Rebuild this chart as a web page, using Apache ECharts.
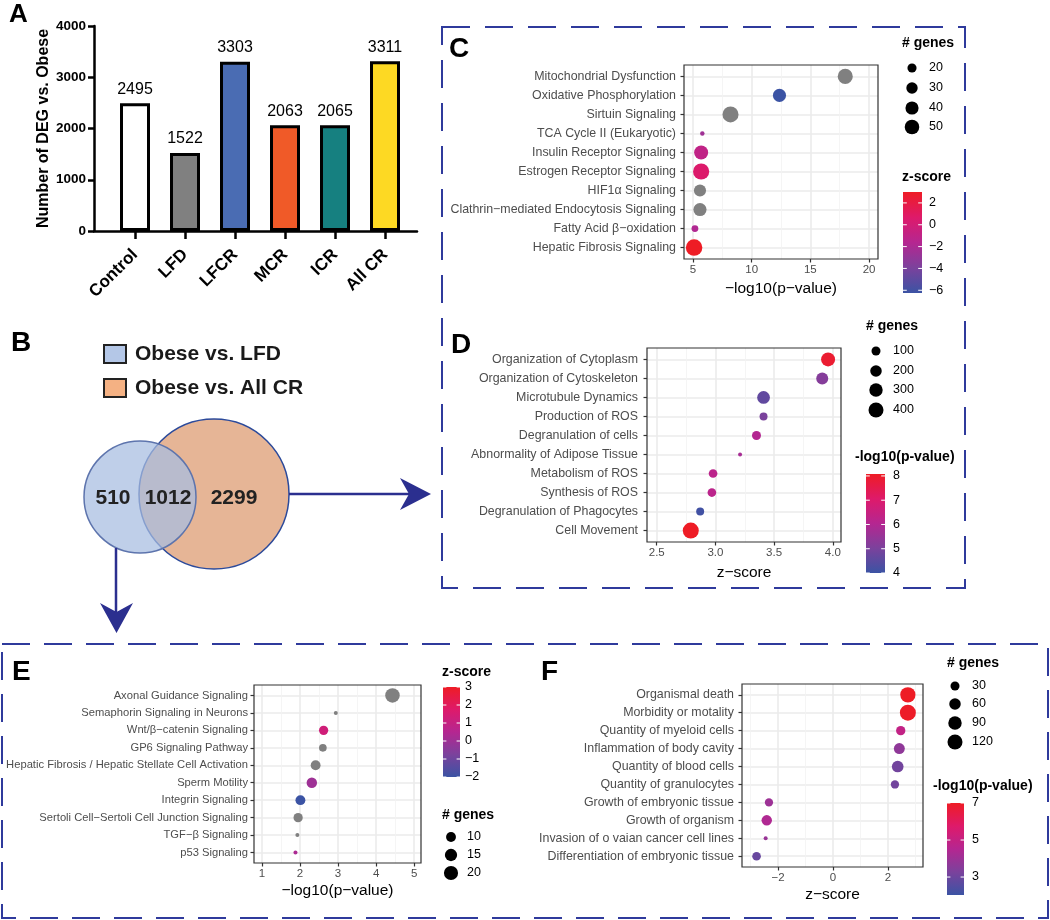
<!DOCTYPE html>
<html><head><meta charset="utf-8">
<script src="https://cdn.jsdelivr.net/npm/echarts@6/dist/echarts.min.js"></script>
<style>html,body{margin:0;padding:0;background:#fff}#c{width:1050px;height:920px}</style>
</head><body><div id="c"></div>
<script>
// ---------------- Panel A data ----------------
const barCategories = ['Control', 'LFD', 'LFCR', 'MCR', 'ICR', 'All CR'];
const barValues = [2495, 1522, 3303, 2063, 2065, 3311];
const barColors = ['#ffffff', '#808080', '#4a6cb3', '#f05a28', '#168080', '#fdd923'];
const barYTicks = [0, 1000, 2000, 3000, 4000];

// ---------------- Panel B data ----------------
const vennLabels = ['Obese vs. LFD', 'Obese vs. All CR'];
const vennCounts = [510, 1012, 2299];

// ---------------- Panel C data ----------------
const cTerms = ['Mitochondrial Dysfunction', 'Oxidative Phosphorylation', 'Sirtuin Signaling',
  'TCA Cycle II (Eukaryotic)', 'Insulin Receptor Signaling', 'Estrogen Receptor Signaling',
  'HIF1\u03b1 Signaling', 'Clathrin\u2212mediated Endocytosis Signaling', 'Fatty Acid \u03b2\u2212oxidation',
  'Hepatic Fibrosis Signaling'];
const cLogP = [17.97, 12.37, 8.2, 5.8, 5.7, 5.7, 5.6, 5.6, 5.17, 5.1];
const cZ = [null, -6.25, null, -2.5, -1.0, 0.6, null, null, -1.8, 3.0];
const cGenes = [54, 40, 62, 12, 46, 63, 34, 40, 14, 66];
const cXTicks = [5, 10, 15, 20];
const cXMinor = [7.5, 12.5, 17.5];
const cGeneLegend = [20, 30, 40, 50];
const cColorTicks = [2, 0, -2, -4, -6];
const cColorLimits = [-6.25, 3.0];

// ---------------- Panel D data ----------------
const dTerms = ['Organization of Cytoplasm', 'Organization of Cytoskeleton', 'Microtubule Dynamics',
  'Production of ROS', 'Degranulation of cells', 'Abnormality of Adipose Tissue', 'Metabolism of ROS',
  'Synthesis of ROS', 'Degranulation of Phagocytes', 'Cell Movement'];
const dZ = [3.96, 3.91, 3.41, 3.41, 3.35, 3.21, 2.98, 2.97, 2.87, 2.79];
const dLogP = [7.9, 5.2, 4.6, 5.0, 6.0, 5.8, 6.2, 6.2, 4.1, 8.08];
const dGenes = [334, 222, 260, 72, 100, 22, 90, 90, 72, 472];
const dXTicks = [2.5, 3.0, 3.5, 4.0];
const dXMinor = [2.75, 3.25, 3.75];
const dGeneLegend = [100, 200, 300, 400];
const dColorTicks = [8, 7, 6, 5, 4];
const dColorLimits = [4.0, 8.08];

// ---------------- Panel E data ----------------
const eTerms = ['Axonal Guidance Signaling', 'Semaphorin Signaling in Neurons', 'Wnt/\u03b2\u2212catenin Signaling',
  'GP6 Signaling Pathway', 'Hepatic Fibrosis / Hepatic Stellate Cell Activation', 'Sperm Motility',
  'Integrin Signaling', 'Sertoli Cell\u2212Sertoli Cell Junction Signaling', 'TGF\u2212\u03b2 Signaling', 'p53 Signaling'];
const eLogP = [4.43, 2.94, 2.62, 2.60, 2.41, 2.31, 2.01, 1.95, 1.93, 1.88];
const eZ = [null, null, 1.3, null, null, 0.0, -2.0, null, null, 0.3];
const eGenes = [21, 5, 9, 7, 10, 11, 10, 9, 5, 5];
const eXTicks = [1, 2, 3, 4, 5];
const eXMinor = [1.5, 2.5, 3.5, 4.5];
const eGeneLegend = [10, 15, 20];
const eColorTicks = [3, 2, 1, 0, -1, -2];
const eColorLimits = [-2, 3];

// ---------------- Panel F data ----------------
const fTerms = ['Organismal death', 'Morbidity or motality', 'Quantity of myeloid cells',
  'Inflammation of body cavity', 'Quantity of blood cells', 'Quantity of granulocytes',
  'Growth of embryonic tissue', 'Growth of organism', 'Invasion of o vaian cancer cell lines',
  'Differentiation of embryonic tissue'];
const fZ = [2.72, 2.72, 2.46, 2.41, 2.35, 2.25, -2.33, -2.41, -2.45, -2.78];
const fLogP = [7.0, 6.95, 4.9, 3.7, 3.1, 3.1, 4.0, 4.4, 3.9, 2.9];
const fGenes = [125, 141, 33, 52, 62, 24, 24, 46, 7, 27];
const fXTicks = [-2, 0, 2];
const fXMinor = [-3, -1, 1, 3];
const fGeneLegend = [30, 60, 90, 120];
const fColorTicks = [7, 5, 3];
const fColorLimits = [2.03, 7.0];

// ---------------- helpers ----------------
const FONT = '"Liberation Sans", Arial, Helvetica, sans-serif';
const RAMP = ['#3b53a4', '#7b429c', '#b52691', '#de1a6a', '#ee1c25'];
const NA_COLOR = '#808080';
const BOX_COLOR = '#2f3a9c';
function hex2rgb(h) { return [1, 3, 5].map(i => parseInt(h.substr(i, 2), 16)); }
function ramp(t) {
  t = Math.max(0, Math.min(1, t));
  const n = RAMP.length - 1;
  const k = Math.min(n - 1, Math.floor(t * n));
  const f = t * n - k;
  const a = hex2rgb(RAMP[k]), b = hex2rgb(RAMP[k + 1]);
  return 'rgb(' + a.map((c, i) => Math.round(c + (b[i] - c) * f)).join(',') + ')';
}
function colorFor(v, lim) {
  if (v === null || v === undefined || Number.isNaN(v)) return NA_COLOR;
  return ramp((v - lim[0]) / (lim[1] - lim[0]));
}
function sizeFor(g, dom, rng) {
  const t = Math.max(0, Math.min(1, (g - dom[0]) / (dom[1] - dom[0])));
  return rng[0] + (rng[1] - rng[0]) * Math.sqrt(t);
}
const minusFmt = v => (v < 0 ? '\u2212' + Math.abs(v) : String(v));
const idx10 = [0, 1, 2, 3, 4, 5, 6, 7, 8, 9];

const panels = [
  { grid: { left: 684, top: 65, width: 194, height: 194 }, terms: cTerms, x: cLogP, col: cZ, genes: cGenes,
    xMin: 4.24, xMax: 20.76, ticks: cXTicks, minor: cXMinor, lim: cColorLimits, srange: [4.5, 16.5],
    xName: '\u2212log10(p\u2212value)', nameGap: 22, labelSize: 12.4, labelMargin: 8, fmt: v => String(v) },
  { grid: { left: 647, top: 348, width: 194, height: 194 }, terms: dTerms, x: dZ, col: dLogP, genes: dGenes,
    xMin: 2.417, xMax: 4.07, ticks: dXTicks, minor: dXMinor, lim: dColorLimits, srange: [4, 16],
    xName: 'z\u2212score', nameGap: 23, labelSize: 12.4, labelMargin: 9, fmt: v => v.toFixed(1) },
  { grid: { left: 254, top: 685, width: 167, height: 178 }, terms: eTerms, x: eLogP, col: eZ, genes: eGenes,
    xMin: 0.79, xMax: 5.18, ticks: eXTicks, minor: eXMinor, lim: eColorLimits, srange: [4, 14.5],
    xName: '\u2212log10(p\u2212value)', nameGap: 20, labelSize: 11.2, labelMargin: 6, fmt: v => String(v) },
  { grid: { left: 742, top: 684, width: 181, height: 183 }, terms: fTerms, x: fZ, col: fLogP, genes: fGenes,
    xMin: -3.31, xMax: 3.27, ticks: fXTicks, minor: fXMinor, lim: fColorLimits, srange: [4, 16],
    xName: 'z\u2212score', nameGap: 20, labelSize: 12.4, labelMargin: 8, fmt: minusFmt }
];

const grids = [], xAxes = [], yAxes = [], series = [], graphics = [];

// ---------------- Panel A (bar) ----------------
grids.push({ left: 94, top: 26, width: 323, height: 205, outerBoundsMode: 'none', containLabel: false });
xAxes.push({
  gridIndex: 0, type: 'value', min: -0.82, max: 5.64,
  axisLine: { show: true, onZero: false, lineStyle: { color: '#000', width: 2.5 } },
  axisTick: { show: true, length: 8, customValues: barCategories.map((c, i) => i), lineStyle: { color: '#000', width: 2.5 } },
  axisLabel: { customValues: barCategories.map((c, i) => i), formatter: v => barCategories[v] || '', rotate: 45,
    fontWeight: 'bold', fontSize: 17, color: '#000', margin: 21, fontFamily: FONT },
  splitLine: { show: false }
});
yAxes.push({
  gridIndex: 0, type: 'value', min: 0, max: 4000, interval: 1000,
  axisLine: { show: true, onZero: false, lineStyle: { color: '#000', width: 2.5 } },
  axisTick: { show: true, length: 6, customValues: barYTicks, lineStyle: { color: '#000', width: 2.5 } },
  axisLabel: { fontWeight: 'bold', fontSize: 13.5, color: '#000', margin: 8, fontFamily: FONT,
    customValues: barYTicks, formatter: v => String(v) },
  splitLine: { show: false },
  name: 'Number of DEG vs. Obese', nameLocation: 'middle', nameGap: 34,
  nameTextStyle: { fontWeight: 'bold', fontSize: 16, color: '#000', fontFamily: FONT }
});
series.push({
  type: 'bar', xAxisIndex: 0, yAxisIndex: 0, barWidth: 30, silent: true,
  data: barValues.map((v, i) => ({ value: [i, v], itemStyle: { color: barColors[i] } })),
  itemStyle: { borderColor: '#000', borderWidth: 3 },
  label: { show: true, position: 'top', distance: 6, fontSize: 16, color: '#000', fontFamily: FONT,
    formatter: p => String(p.value[1]) }
});

// ---------------- scatter panels ----------------
panels.forEach((p) => {
  const gi = grids.length;
  grids.push(Object.assign({ show: true, borderColor: '#333', borderWidth: 1.2, z: 5,
    outerBoundsMode: 'none', containLabel: false }, p.grid));
  const xi = xAxes.length;
  xAxes.push({
    gridIndex: gi, type: 'value', min: p.xMin, max: p.xMax, position: 'bottom',
    axisLine: { show: false, onZero: false },
    axisTick: { show: true, length: 3.5, customValues: p.ticks, lineStyle: { color: '#333', width: 1.2 } },
    axisLabel: { customValues: p.ticks, formatter: p.fmt, color: '#4d4d4d', fontSize: 11.5, margin: 5, fontFamily: FONT },
    splitLine: { show: true, lineStyle: { color: '#ebebeb', width: 1.6 } },
    name: p.xName, nameLocation: 'middle', nameGap: p.nameGap,
    nameTextStyle: { fontSize: 15.5, color: '#000', fontFamily: FONT }
  });
  xAxes.push({
    gridIndex: gi, type: 'value', min: p.xMin, max: p.xMax, position: 'top',
    axisLine: { show: false, onZero: false },
    axisTick: { show: false, customValues: p.minor },
    axisLabel: { show: false, customValues: p.minor },
    splitLine: { show: true, lineStyle: { color: '#f3f3f3', width: 0.8 } }
  });
  const yi = yAxes.length;
  yAxes.push({
    gridIndex: gi, type: 'value', inverse: true, min: -0.6, max: 9.6, position: 'left',
    axisLine: { show: false, onZero: false },
    axisTick: { show: true, length: 3.5, customValues: idx10, lineStyle: { color: '#333', width: 1.2 } },
    axisLabel: { customValues: idx10, formatter: v => p.terms[v] || '', color: '#4d4d4d',
      fontSize: p.labelSize, margin: p.labelMargin, fontFamily: FONT },
    splitLine: { show: true, lineStyle: { color: '#ebebeb', width: 1.6 } }
  });
  const gdom = [Math.min(...p.genes), Math.max(...p.genes)];
  p.gdom = gdom;
  series.push({
    type: 'scatter', xAxisIndex: xi, yAxisIndex: yi, symbol: 'circle', silent: true, z: 3,
    data: p.terms.map((t, i) => ({
      value: [p.x[i], i],
      symbolSize: sizeFor(p.genes[i], gdom, p.srange),
      itemStyle: { color: colorFor(p.col[i], p.lim), opacity: 1 }
    }))
  });
});

// ---------------- graphics: legends ----------------
function txt(x, y, text, font, align, color) {
  return { type: 'text', silent: true, z: 20, style: { x, y, text, font, fill: color || '#000',
    textAlign: align || 'left', textVerticalAlign: 'middle' } };
}
const TITLE_FONT = 'bold 14px ' + FONT;
const LAB_FONT = '12.5px ' + FONT;
function sizeLegend(p, values, titleX, titleY, dotX, ys, textX) {
  graphics.push(txt(titleX, titleY, '# genes', TITLE_FONT));
  values.forEach((v, i) => {
    graphics.push({ type: 'circle', silent: true, z: 10,
      shape: { cx: dotX, cy: ys[i], r: sizeFor(v, p.gdom, p.srange) / 2 }, style: { fill: '#000' } });
    graphics.push(txt(textX, ys[i], String(v), LAB_FONT));
  });
}
function colorBar(lim, ticks, title, titleX, titleY, bx, by, bw, bh, textX) {
  graphics.push(txt(titleX, titleY, title, TITLE_FONT));
  const stops = [];
  for (let k = 0; k <= 20; k++) stops.push({ offset: k / 20, color: ramp(1 - k / 20) });
  graphics.push({ type: 'rect', silent: true, z: 10, shape: { x: bx, y: by, width: bw, height: bh },
    style: { fill: new echarts.graphic.LinearGradient(0, 0, 0, 1, stops) } });
  ticks.forEach(v => {
    const y = by + (lim[1] - v) / (lim[1] - lim[0]) * bh;
    graphics.push({ type: 'line', silent: true, z: 11, shape: { x1: bx, y1: y, x2: bx + bw * 0.2, y2: y },
      style: { stroke: '#fff', lineWidth: 1 } });
    graphics.push({ type: 'line', silent: true, z: 11, shape: { x1: bx + bw * 0.8, y1: y, x2: bx + bw, y2: y },
      style: { stroke: '#fff', lineWidth: 1 } });
    graphics.push(txt(textX, y, minusFmt(v), LAB_FONT));
  });
}
sizeLegend(panels[0], cGeneLegend, 902, 43, 912, [68, 88, 108, 127], 929);
colorBar(cColorLimits, cColorTicks, 'z-score', 902, 177, 903, 192, 19, 101, 929);
sizeLegend(panels[1], dGeneLegend, 866, 326, 876, [351, 371, 390, 410], 893);
colorBar(dColorLimits, dColorTicks, '-log10(p-value)', 855, 457, 866, 474, 19, 99, 893);
colorBar(eColorLimits, eColorTicks, 'z-score', 442, 672, 443, 687, 17, 90, 465);
sizeLegend(panels[2], eGeneLegend, 442, 815, 451, [837, 855, 873], 467);
sizeLegend(panels[3], fGeneLegend, 947, 663, 955, [686, 704, 723, 742], 972);
colorBar(fColorLimits, fColorTicks, '-log10(p-value)', 933, 786, 947, 803, 17, 92, 972);

// ---------------- panel letters ----------------
const LETTER_FONT = 'bold 28px ' + FONT;
graphics.push(txt(9, 15, 'A', 'bold 26px ' + FONT));
graphics.push(txt(11, 343, 'B', LETTER_FONT));
graphics.push(txt(449, 49, 'C', LETTER_FONT));
graphics.push(txt(451, 345, 'D', LETTER_FONT));
graphics.push(txt(12, 672, 'E', LETTER_FONT));
graphics.push(txt(541, 672, 'F', LETTER_FONT));

// ---------------- dashed boxes ----------------
graphics.push({ type: 'rect', silent: true, z: 1, shape: { x: 442, y: 27, width: 523, height: 561 },
  style: { fill: 'none', stroke: BOX_COLOR, lineWidth: 2, lineDash: [28, 15] } });
graphics.push({ type: 'rect', silent: true, z: 1, shape: { x: 2, y: 644, width: 1046, height: 274 },
  style: { fill: 'none', stroke: BOX_COLOR, lineWidth: 2, lineDash: [28, 14] } });

// ---------------- Venn diagram (B) ----------------
graphics.push({ type: 'rect', silent: true, z: 10, shape: { x: 104, y: 345, width: 22, height: 18 },
  style: { fill: '#b4c7e7', stroke: '#222', lineWidth: 2 } });
graphics.push({ type: 'rect', silent: true, z: 10, shape: { x: 104, y: 379, width: 22, height: 18 },
  style: { fill: '#f4b183', stroke: '#222', lineWidth: 2 } });
graphics.push(txt(135, 354, vennLabels[0], 'bold 21px ' + FONT, 'left', '#1a1a1a'));
graphics.push(txt(135, 388, vennLabels[1], 'bold 21px ' + FONT, 'left', '#1a1a1a'));
graphics.push({ type: 'circle', silent: true, z: 10, shape: { cx: 214, cy: 494, r: 75 },
  style: { fill: '#e6b596', stroke: '#2c4a9a', lineWidth: 1.5 } });
graphics.push({ type: 'circle', silent: true, z: 11, shape: { cx: 140, cy: 497, r: 56 },
  style: { fill: 'rgba(167,189,225,0.73)', stroke: '#5d74ad', lineWidth: 1.5 } });
graphics.push(txt(113, 498, String(vennCounts[0]), 'bold 21px ' + FONT, 'center', '#222'));
graphics.push(txt(168, 498, String(vennCounts[1]), 'bold 21px ' + FONT, 'center', '#222'));
graphics.push(txt(234, 498, String(vennCounts[2]), 'bold 21px ' + FONT, 'center', '#222'));
const ARROW = '#2b2f8f';
graphics.push({ type: 'line', silent: true, z: 12, shape: { x1: 289, y1: 494, x2: 412, y2: 494 },
  style: { stroke: ARROW, lineWidth: 2.5 } });
graphics.push({ type: 'polygon', silent: true, z: 12, shape: { points: [[431, 494], [400, 478], [409, 494], [400, 510]] },
  style: { fill: ARROW } });
graphics.push({ type: 'line', silent: true, z: 12, shape: { x1: 116, y1: 548, x2: 116, y2: 614 },
  style: { stroke: ARROW, lineWidth: 2.5 } });
graphics.push({ type: 'polygon', silent: true, z: 12, shape: { points: [[116.5, 633], [100, 603], [116.5, 612], [133, 603]] },
  style: { fill: ARROW } });

const chart = echarts.init(document.getElementById('c'), null, { renderer: 'canvas' });
chart.setOption({
  backgroundColor: '#ffffff',
  animation: false,
  textStyle: { fontFamily: FONT },
  grid: grids,
  xAxis: xAxes,
  yAxis: yAxes,
  series: series,
  graphic: { elements: graphics }
});
</script>
</body></html>
